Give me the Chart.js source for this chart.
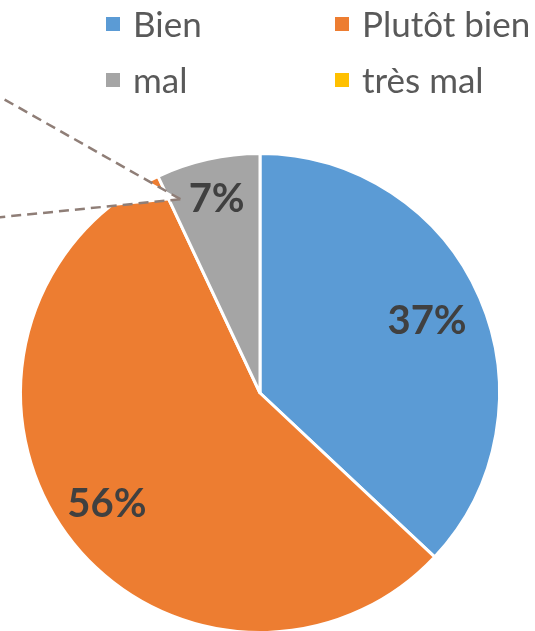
<!DOCTYPE html>
<html><head><meta charset="utf-8">
<script src="https://cdn.jsdelivr.net/npm/chart.js@4.4.1/dist/chart.umd.min.js"></script>
<style>
html,body{margin:0;padding:0;width:535px;height:631px;overflow:hidden;background:#fff;}
#wrap{position:relative;width:535px;height:640px;}
#legend{position:absolute;left:0;top:0;width:535px;height:120px;font-family:Lato,"Liberation Sans",sans-serif;color:#595959;}
.li{position:absolute;display:flex;align-items:center;font-size:35px;line-height:1;white-space:nowrap;}
.sw{width:14px;height:14px;margin-right:13px;}
</style></head>
<body>
<div id="wrap"><canvas id="c" width="535" height="640"></canvas><div id="legend"></div></div>
<script>
const categories = ["Bien", "Plutôt bien", "mal", "très mal"];
const values = [37, 56, 7, 0];
const labels = ["37%", "56%", "7%", "0%"];
const colors = ["#5B9BD5", "#ED7D31", "#A5A5A5", "#FFC000"];
const labelRadius = [0.76, 0.79, 0.83, 0.8];

// HTML legend (2 x 2)
const legendPos = [[106, 24], [335, 24], [106, 80], [335, 80]];
const lg = document.getElementById('legend');
categories.forEach((c, i) => {
  const d = document.createElement('div');
  d.className = 'li';
  d.style.left = legendPos[i][0] + 'px';
  d.style.top = (legendPos[i][1] - 18) + 'px';
  d.innerHTML = '<span class="sw" style="background:' + colors[i] + '"></span><span>' + c + '</span>';
  lg.appendChild(d);
});

const pieLabels = {
  id: 'pieLabels',
  afterDatasetsDraw(chart) {
    const ctx = chart.ctx;
    const meta = chart.getDatasetMeta(0);
    // leader lines from the orange/gray boundary
    const malArc = meta.data[2];
    const a = malArc.startAngle + 0.05;
    const r = malArc.outerRadius * 0.875;
    const ax = malArc.x + Math.cos(a) * r, ay = malArc.y + Math.sin(a) * r;
    const dirs = [Math.atan2(-102, -180), Math.atan2(18, -180)];
    const ends = dirs.map(t => {
      const len = (ax + 5) / Math.abs(Math.cos(t));
      return [ax + Math.cos(t) * len, ay + Math.sin(t) * len];
    });
    ctx.save();
    ctx.fillStyle = '#ffffff';
    ctx.beginPath();
    ctx.moveTo(ax, ay);
    ctx.lineTo(ends[0][0], ends[0][1]);
    ctx.lineTo(ends[1][0], ends[1][1]);
    ctx.closePath();
    ctx.fill();
    ctx.strokeStyle = '#8F7E77';
    ctx.lineWidth = 2.5;
    ctx.setLineDash([10, 6]);
    ends.forEach(e => { ctx.beginPath(); ctx.moveTo(ax, ay); ctx.lineTo(e[0], e[1]); ctx.stroke(); });
    ctx.setLineDash([]);
    // percentage labels
    ctx.fillStyle = '#404040';
    ctx.font = 'bold 40px Lato, "Liberation Sans", sans-serif';
    ctx.textAlign = 'center';
    ctx.textBaseline = 'middle';
    meta.data.forEach((arc, i) => {
      if (!values[i]) return;
      const mid = (arc.startAngle + arc.endAngle) / 2;
      const rr = arc.outerRadius * labelRadius[i];
      ctx.fillText(labels[i], arc.x + Math.cos(mid) * rr, arc.y + Math.sin(mid) * rr);
    });
    ctx.restore();
  }
};

new Chart(document.getElementById('c'), {
  type: 'pie',
  data: {
    labels: categories,
    datasets: [{ data: values, backgroundColor: colors, borderColor: '#ffffff', borderWidth: 3 }]
  },
  options: {
    responsive: false,
    animation: false,
    layout: { padding: { left: 19, right: 34, top: 152, bottom: 6 } },
    plugins: { legend: { display: false }, tooltip: { enabled: false } }
  },
  plugins: [pieLabels]
});
</script>
</body></html>
